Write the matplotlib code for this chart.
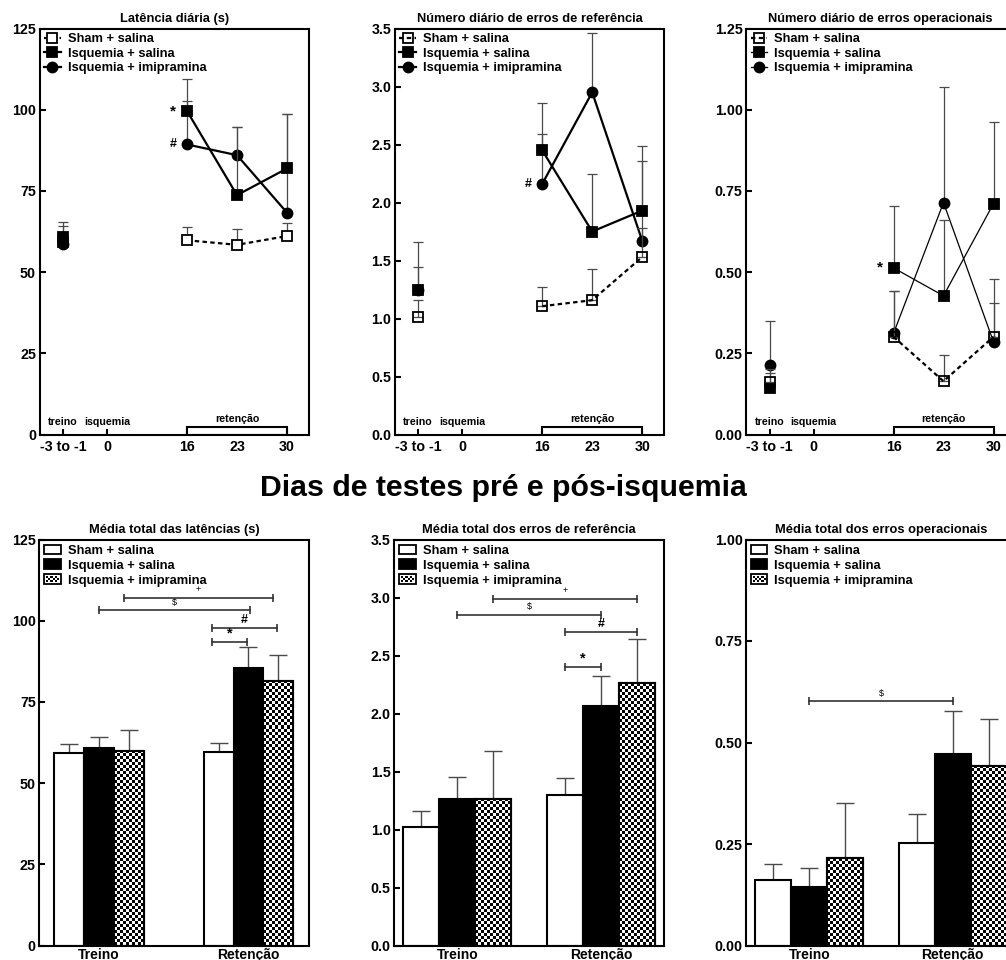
import numpy as np
import matplotlib
matplotlib.use('Agg')
import matplotlib.pyplot as plt
from matplotlib.patches import Rectangle, Patch
from matplotlib.legend_handler import HandlerBase
from matplotlib.transforms import blended_transform_factory

plt.rcParams['font.family'] = ['Liberation Sans', 'DejaVu Sans']
plt.rcParams['font.weight'] = 'bold'
plt.rcParams['axes.titleweight'] = 'bold'

# ── dados ──
GROUPS = ['Sham + salina', 'Isquemia + salina', 'Isquemia + imipramina']
DAY_LABELS = ['-3 to -1', '0', '16', '23', '30']
PHASES = ['Treino', 'Retenção']

# diário: [treino, dia 16, dia 23, dia 30]
LAT_SHAM = [59.2, 59.8, 58.4, 61.1]
LAT_SHAM_E = [3.0, 4.0, 4.8, 3.9]
LAT_SAL = [60.8, 99.6, 73.7, 81.9]
LAT_SAL_E = [3.4, 10.0, 21.0, 16.7]
LAT_IMIP = [58.5, 89.3, 86.0, 68.3]
LAT_IMIP_E = [7.0, 13.5, 8.7, 30.3]

REF_SHAM = [1.01, 1.106, 1.158, 1.53]
REF_SHAM_E = [0.15, 0.165, 0.27, 0.25]
REF_SAL = [1.25, 2.45, 1.75, 1.93]
REF_SAL_E = [0.19, 0.14, 0.50, 0.43]
REF_IMIP = [1.25, 2.16, 2.95, 1.67]
REF_IMIP_E = [0.41, 0.70, 0.51, 0.82]

OP_SHAM = [0.162, 0.301, 0.164, 0.301]
OP_SHAM_E = [0.04, 0.14, 0.082, 0.105]
OP_SAL = [0.142, 0.513, 0.427, 0.711]
OP_SAL_E = [0.047, 0.19, 0.233, 0.25]
OP_IMIP = [0.213, 0.311, 0.714, 0.285]
OP_IMIP_E = [0.136, 0.13, 0.356, 0.195]

# médias totais: [treino, retenção]
LATM_SHAM = [59.2, 59.7]
LATM_SHAM_E = [2.9, 2.8]
LATM_SAL = [60.9, 85.3]
LATM_SAL_E = [3.2, 6.7]
LATM_IMIP = [59.9, 81.4]
LATM_IMIP_E = [6.5, 8.1]

REFM_SHAM = [1.018, 1.294]
REFM_SHAM_E = [0.144, 0.15]
REFM_SAL = [1.265, 2.065]
REFM_SAL_E = [0.187, 0.259]
REFM_IMIP = [1.265, 2.261]
REFM_IMIP_E = [0.409, 0.385]

OPM_SHAM = [0.161, 0.252]
OPM_SHAM_E = [0.04, 0.071]
OPM_SAL = [0.144, 0.472]
OPM_SAL_E = [0.047, 0.106]
OPM_IMIP = [0.216, 0.443]
OPM_IMIP_E = [0.136, 0.114]

# comparações (x0, x1, y, símbolo)
LAT_SIG = [(0.167, 1.162, 107.1, '+'), (0.0, 1.01, 103.3, '$'),
           (0.757, 1.19, 97.8, '#'), (0.757, 0.993, 93.4, '*')]
REF_SIG = [(0.25, 1.25, 2.99, '+'), (0.0, 1.0, 2.853, '$'),
           (0.75, 1.25, 2.703, '#'), (0.75, 1.0, 2.399, '*')]
OP_SIG = [(0.0, 1.0, 0.601, '$')]

# ── layout ──
W, H = 1006, 960
fig = plt.figure(figsize=(W / 100, H / 100), dpi=100)
fig.patch.set_facecolor('white')

def px_axes(left, top, w, h):
    return fig.add_axes([left / W, 1 - (top + h) / H, w / W, h / H])

X_TREINO, X_ISQ = 0.0, 0.88
X_RET = [2.48, 3.48, 4.48]
EBAR = '#4a4a4a'

def style_axes(ax):
    for s in ax.spines.values():
        s.set_linewidth(1.5)
    ax.tick_params(direction='in', length=4, width=1.5, labelsize=10.3, pad=2.5)


def daily_panel(ax, title, data, ylim, yticks, fmt, marks, order, lw, open_sham):
    style_axes(ax)
    mk = ['s', 's', 'o']
    handles = [None] * 3
    for g in order:
        m, e = data[g]
        x = [X_TREINO] + X_RET
        z = 3 + order.index(g)
        ax.errorbar(x, m, yerr=[np.zeros(4), e], fmt='none', ecolor=EBAR,
                    elinewidth=0.9, capsize=3.3, capthick=0.9, zorder=z - 0.5)
        face = 'black' if g > 0 else ('none' if open_sham else 'white')
        ls = (0, (2, 1.5)) if g == 0 else '-'
        lwg = 1.6 if g == 0 else lw
        kw = dict(marker=mk[g], markersize=7.2, markerfacecolor=face,
                  markeredgecolor='black', markeredgewidth=1.3, color='black', zorder=z)
        ax.plot(x[:1], m[:1], ls='none', **kw)
        line, = ax.plot(x[1:], m[1:], ls=ls, lw=lwg, **kw)
        handles[g] = line
    for g, d, sym in marks:
        ax.annotate(sym, (X_RET[d - 1], data[g][0][d]), xytext=(-10, 0),
                    textcoords='offset points', ha='center', va='center',
                    fontsize=9 if sym == '#' else 11)
    ax.set_xlim(-0.47, 4.92)
    ax.set_ylim(*ylim)
    ax.set_xticks([X_TREINO, X_ISQ] + X_RET)
    ax.set_xticklabels(DAY_LABELS)
    ax.tick_params(axis='x', pad=4)
    ax.set_yticks(yticks)
    ax.set_yticklabels([fmt.format(t) for t in yticks])
    bt = blended_transform_factory(ax.transData, ax.transAxes)
    ax.add_patch(Rectangle((X_RET[0], 0), X_RET[-1] - X_RET[0], 0.018, transform=bt,
                           facecolor='white', edgecolor='black', lw=1.5, zorder=2))
    ax.text(X_TREINO, 0.031, 'treino', transform=bt, ha='center', va='center', fontsize=7.7)
    ax.text(X_ISQ, 0.031, 'isquemia', transform=bt, ha='center', va='center', fontsize=7.7)
    ax.text(X_RET[1], 0.037, 'retenção', transform=bt, ha='center', va='center', fontsize=7.7)
    ax.set_title(title, fontsize=9.3, pad=4.5)
    ax.legend(handles, GROUPS, loc='upper left', frameon=False, fontsize=9.3,
              handlelength=1.3, handletextpad=0.55, borderpad=0.2, borderaxespad=0.15,
              labelspacing=0.2)


class CheckerHandler(HandlerBase):
    def create_artists(self, legend, orig_handle, xdescent, ydescent, width, height,
                       fontsize, trans):
        arts = [Rectangle((-xdescent, -ydescent), width, height, facecolor='white',
                          edgecolor='none', transform=trans)]
        nx, ny = 6, 3
        cw, ch = (width - 2) / nx, (height - 2) / ny
        for i in range(nx):
            for j in range(ny):
                if (i + j) % 2 == 0:
                    arts.append(Rectangle((-xdescent + 1 + i * cw, -ydescent + 1 + j * ch),
                                          cw, ch, facecolor='black', edgecolor='none',
                                          transform=trans))
        arts.append(Rectangle((-xdescent, -ydescent), width, height, facecolor='none',
                              edgecolor='black', lw=1.3, transform=trans))
        return arts


def checker_fill(ax, bar, cell=3):
    x0, y0 = bar.get_x(), bar.get_y()
    x1, y1 = x0 + bar.get_width(), y0 + bar.get_height()
    (px0, py0), (px1, py1) = ax.transData.transform([(x0, y0), (x1, y1)])
    nx = int(np.ceil((px1 - px0) / cell)) + 1
    ny = int(np.ceil((py1 - py0) / cell)) + 1
    ii, jj = np.meshgrid(np.arange(nx), np.arange(ny))
    board = ((ii + jj) % 2).astype(float)
    inv = ax.transData.inverted()
    ex0, ey0 = inv.transform((px0, py0))
    ex1, ey1 = inv.transform((px0 + nx * cell, py0 + ny * cell))
    im = ax.imshow(board, extent=(ex0, ex1, ey0, ey1), origin='lower', cmap='gray',
                   vmin=0, vmax=1, interpolation='nearest', aspect='auto', zorder=2.1)
    im.set_clip_path(bar)


def mean_panel(ax, title, data, width, xlim, ylim, yticks, fmt, sigs):
    style_axes(ax)
    X = np.arange(len(PHASES))
    offs = [-width, 0, width]
    ax.set_xlim(*xlim)
    ax.set_ylim(*ylim)
    colors = ['white', 'black', 'white']
    for g in range(3):
        m, e = data[g]
        ax.errorbar(X + offs[g], m, yerr=[np.zeros(2), e], fmt='none', ecolor=EBAR,
                    elinewidth=1.0, capsize=6.8, capthick=1.0, zorder=1.5)
        bars = ax.bar(X + offs[g], m, width, color=colors[g], edgecolor='black',
                      lw=1.5, zorder=2)
        if g == 2:
            for b in bars:
                checker_fill(ax, b)
            ax.bar(X + offs[g], m, width, fill=False, edgecolor='black', lw=1.5, zorder=2.2)
    for x0, x1, y, sym in sigs:
        ax.plot([x0, x1], [y, y], color='#333333', lw=1.2, marker='|', markersize=6,
                markeredgewidth=1.2, zorder=3)
        big = sym in '#*'
        ax.annotate(sym, ((x0 + x1) / 2, y), xytext=(0, 1.5 if big else 2.5),
                    textcoords='offset points', ha='center', va='bottom',
                    fontsize=(10.5 if sym == '*' else 9) if big else 6.5,
                    fontweight='bold' if big else 'normal')
    ax.set_xlim(*xlim)
    ax.set_ylim(*ylim)
    ax.set_xticks(X)
    ax.set_xticklabels(PHASES, fontsize=10)
    ax.tick_params(axis='x', length=0, pad=1.5)
    ax.set_yticks(yticks)
    ax.set_yticklabels([fmt.format(t) for t in yticks])
    ax.set_title(title, fontsize=9.3, pad=4.5)
    hs = [Patch(facecolor='white', edgecolor='black', lw=1.3),
          Patch(facecolor='black', edgecolor='black', lw=1.3),
          Patch(facecolor='white', edgecolor='black')]
    ax.legend(hs, GROUPS, loc='upper left', frameon=False, fontsize=9.3,
              handlelength=1.25, handleheight=0.75, handletextpad=0.55, borderpad=0.2,
              borderaxespad=0.2, labelspacing=0.2, handler_map={hs[2]: CheckerHandler()})


# ── painéis superiores ──
TOP_T, BOT_T, AW, AH = 28.5, 539.5, 269.5, 406
ax1 = px_axes(39.5, TOP_T, AW, AH)
daily_panel(ax1, 'Latência diária (s)',
            [(LAT_SHAM, LAT_SHAM_E), (LAT_SAL, LAT_SAL_E), (LAT_IMIP, LAT_IMIP_E)],
            (0, 125), [0, 25, 50, 75, 100, 125], '{:d}',
            [(1, 1, '*'), (2, 1, '#')], order=[0, 2, 1], lw=1.6, open_sham=False)

ax2 = px_axes(394.7, TOP_T, AW, AH)
daily_panel(ax2, 'Número diário de erros de referência',
            [(REF_SHAM, REF_SHAM_E), (REF_SAL, REF_SAL_E), (REF_IMIP, REF_IMIP_E)],
            (0, 3.5), [0, 0.5, 1.0, 1.5, 2.0, 2.5, 3.0, 3.5], '{:.1f}',
            [(2, 1, '#')], order=[2, 1, 0], lw=1.6, open_sham=True)

ax3 = px_axes(746, TOP_T, AW, AH)
daily_panel(ax3, 'Número diário de erros operacionais',
            [(OP_SHAM, OP_SHAM_E), (OP_SAL, OP_SAL_E), (OP_IMIP, OP_IMIP_E)],
            (0, 1.25), [0, 0.25, 0.5, 0.75, 1.0, 1.25], '{:.2f}',
            [(1, 1, '*')], order=[2, 1, 0], lw=0.9, open_sham=True)

fig.text(0.5, 1 - 488 / H, 'Dias de testes pré e pós-isquemia', ha='center', va='center',
         fontsize=21.8, fontweight='bold')

# ── painéis inferiores ──
ax4 = px_axes(39.3, BOT_T, 270, AH)
mean_panel(ax4, 'Média total das latências (s)',
           [(LATM_SHAM, LATM_SHAM_E), (LATM_SAL, LATM_SAL_E), (LATM_IMIP, LATM_IMIP_E)],
           0.2, (-0.40, 1.407), (0, 125), [0, 25, 50, 75, 100, 125], '{:d}', LAT_SIG)

ax5 = px_axes(394.3, BOT_T, 270, AH)
mean_panel(ax5, 'Média total dos erros de referência',
           [(REFM_SHAM, REFM_SHAM_E), (REFM_SAL, REFM_SAL_E), (REFM_IMIP, REFM_IMIP_E)],
           0.25, (-0.438, 1.44), (0, 3.5), [0, 0.5, 1.0, 1.5, 2.0, 2.5, 3.0, 3.5], '{:.1f}',
           REF_SIG)

ax6 = px_axes(746, BOT_T, 270, AH)
mean_panel(ax6, 'Média total dos erros operacionais',
           [(OPM_SHAM, OPM_SHAM_E), (OPM_SAL, OPM_SAL_E), (OPM_IMIP, OPM_IMIP_E)],
           0.25, (-0.44, 1.44), (0, 1.0), [0, 0.25, 0.5, 0.75, 1.0], '{:.2f}', OP_SIG)

fig.savefig('out.png', dpi=100, facecolor='white')
